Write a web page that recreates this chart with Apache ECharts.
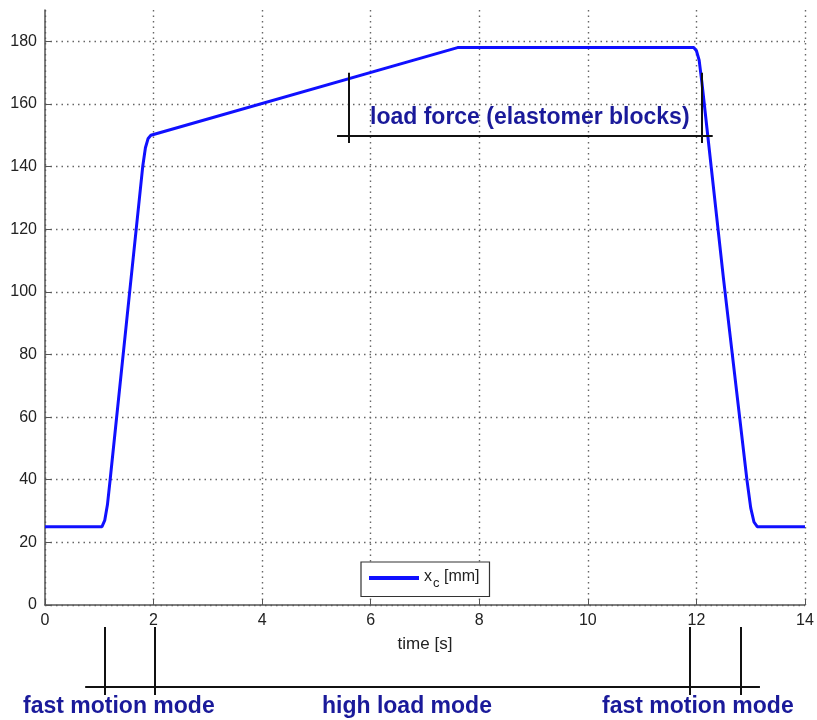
<!DOCTYPE html>
<html>
<head>
<meta charset="utf-8">
<script src="https://cdn.jsdelivr.net/npm/echarts@6/dist/echarts.min.js"></script>
<style>
    html, body { margin: 0; padding: 0; background: #fff; }
    #chart { width: 817px; height: 720px; }
</style>
</head>
<body>
<div id="chart"></div>
<script>
// 数据
const timeS = [0, 1.05, 1.1, 1.15, 1.2, 1.5, 1.8, 1.85, 1.9, 1.95, 7.6, 11.95, 12.0, 12.05, 12.1, 12.5, 12.93, 13.0, 13.06, 13.12, 14];
const xcMm = [25, 25, 27, 32, 40, 90, 140, 146, 149, 150, 178, 178, 177, 174, 167, 104, 40, 31, 26.5, 25, 25];
const xTicks = [0, 2, 4, 6, 8, 10, 12, 14];
const yTicks = [0, 20, 40, 60, 80, 100, 120, 140, 160, 180];

// 注释线 (数据坐标)
const loadForceSpan = [5.38, 12.3];
const loadForceLevel = 150;
const loadForceMarks = [5.6, 12.1];
const loadForceMarkRange = [147.5, 170];
const modeSpan = [0.74, 13.17];
const modeMarks = [1.1, 2.03, 11.88, 12.82];
const modeLabels = ['fast motion mode', 'high load mode', 'fast motion mode'];

const navy = '#1a1a9a';
const font = '"Liberation Sans", Arial, sans-serif';
const labelFont = 'bold 23px ' + font;

const chart = echarts.init(document.getElementById('chart'));

const lineStyle = { color: '#111', width: 2, type: 'solid' };
const gridLine = { color: '#666', type: [1.5, 4], width: 1.4 };

const topMarks = [
    [{ coord: [loadForceSpan[0], loadForceLevel] }, { coord: [loadForceSpan[1], loadForceLevel] }]
];
loadForceMarks.forEach(x => {
    topMarks.push([{ coord: [x, loadForceMarkRange[0]] }, { coord: [x, loadForceMarkRange[1]] }]);
});

const bottomMarks = [
    [{ coord: [modeSpan[0], 0.118] }, { coord: [modeSpan[1], 0.118] }]
];
modeMarks.forEach(x => {
    bottomMarks.push([{ coord: [x, 0] }, { coord: [x, 1] }]);
});

const option = {
    animation: false,
    textStyle: { fontFamily: font },
    grid: [
        { left: 45, right: 12, top: 10, bottom: 115 },
        { left: 45, right: 12, top: 627, height: 68 }
    ],
    xAxis: [{
        type: 'value',
        min: 0,
        max: 14,
        interval: 2,
        name: 'time [s]',
        nameLocation: 'middle',
        nameGap: 31,
        nameTextStyle: { color: '#222', fontSize: 17, fontFamily: font },
        axisLine: { lineStyle: { color: '#555', width: 1.5 } },
        axisTick: { inside: true, length: 6, lineStyle: { color: '#555' } },
        axisLabel: { color: '#222', fontSize: 16, margin: 8, fontFamily: font },
        splitLine: { show: true, lineStyle: gridLine }
    }, {
        type: 'value', gridIndex: 1, min: 0, max: 14, show: false
    }],
    yAxis: [{
        type: 'value',
        min: 0,
        max: 190,
        interval: 20,
        axisLine: { show: true, lineStyle: { color: '#555', width: 1.5 } },
        axisTick: { show: true, inside: true, length: 6, lineStyle: { color: '#555' } },
        axisLabel: { color: '#222', fontSize: 16, margin: 8, showMaxLabel: false, fontFamily: font },
        splitLine: { show: true, showMaxLine: false, lineStyle: gridLine }
    }, {
        type: 'value', gridIndex: 1, min: 0, max: 1, show: false
    }],
    legend: {
        left: 361,
        top: 562,
        width: 128,
        padding: [7, 10, 7, 8],
        backgroundColor: '#fff',
        borderColor: '#333',
        borderWidth: 1.2,
        borderRadius: 0,
        icon: 'rect',
        itemWidth: 50,
        itemHeight: 4,
        itemGap: 6,
        data: ['x_c [mm]'],
        formatter: () => '{x|x}{s|c}{x| [mm]}',
        textStyle: {
            color: '#222',
            rich: {
                x: { fontSize: 16, fontFamily: font, color: '#222', padding: [0, 0, 2, 0] },
                s: { fontSize: 13, fontFamily: font, color: '#222', padding: [10, 0, 0, 1] }
            }
        }
    },
    series: [{
        name: 'x_c [mm]',
        type: 'line',
        data: timeS.map((t, i) => [t, xcMm[i]]),
        showSymbol: false,
        symbol: 'none',
        lineStyle: { color: '#1010ff', width: 3 },
        itemStyle: { color: '#1010ff' },
        markLine: {
            silent: true,
            symbol: 'none',
            label: { show: false },
            lineStyle: lineStyle,
            data: topMarks
        }
    }, {
        name: 'modes',
        type: 'line',
        xAxisIndex: 1,
        yAxisIndex: 1,
        data: [],
        markLine: {
            silent: true,
            symbol: 'none',
            label: { show: false },
            lineStyle: lineStyle,
            data: bottomMarks
        }
    }],
    graphic: [{
        type: 'text',
        left: 370,
        top: 106,
        style: { text: 'load force (elastomer blocks)', font: labelFont, fill: navy }
    }, {
        type: 'text',
        left: 23,
        top: 695,
        style: { text: modeLabels[0], font: labelFont, fill: navy }
    }, {
        type: 'text',
        left: 322,
        top: 695,
        style: { text: modeLabels[1], font: labelFont, fill: navy }
    }, {
        type: 'text',
        left: 602,
        top: 695,
        style: { text: modeLabels[2], font: labelFont, fill: navy }
    }]
};

chart.setOption(option);
</script>
</body>
</html>
